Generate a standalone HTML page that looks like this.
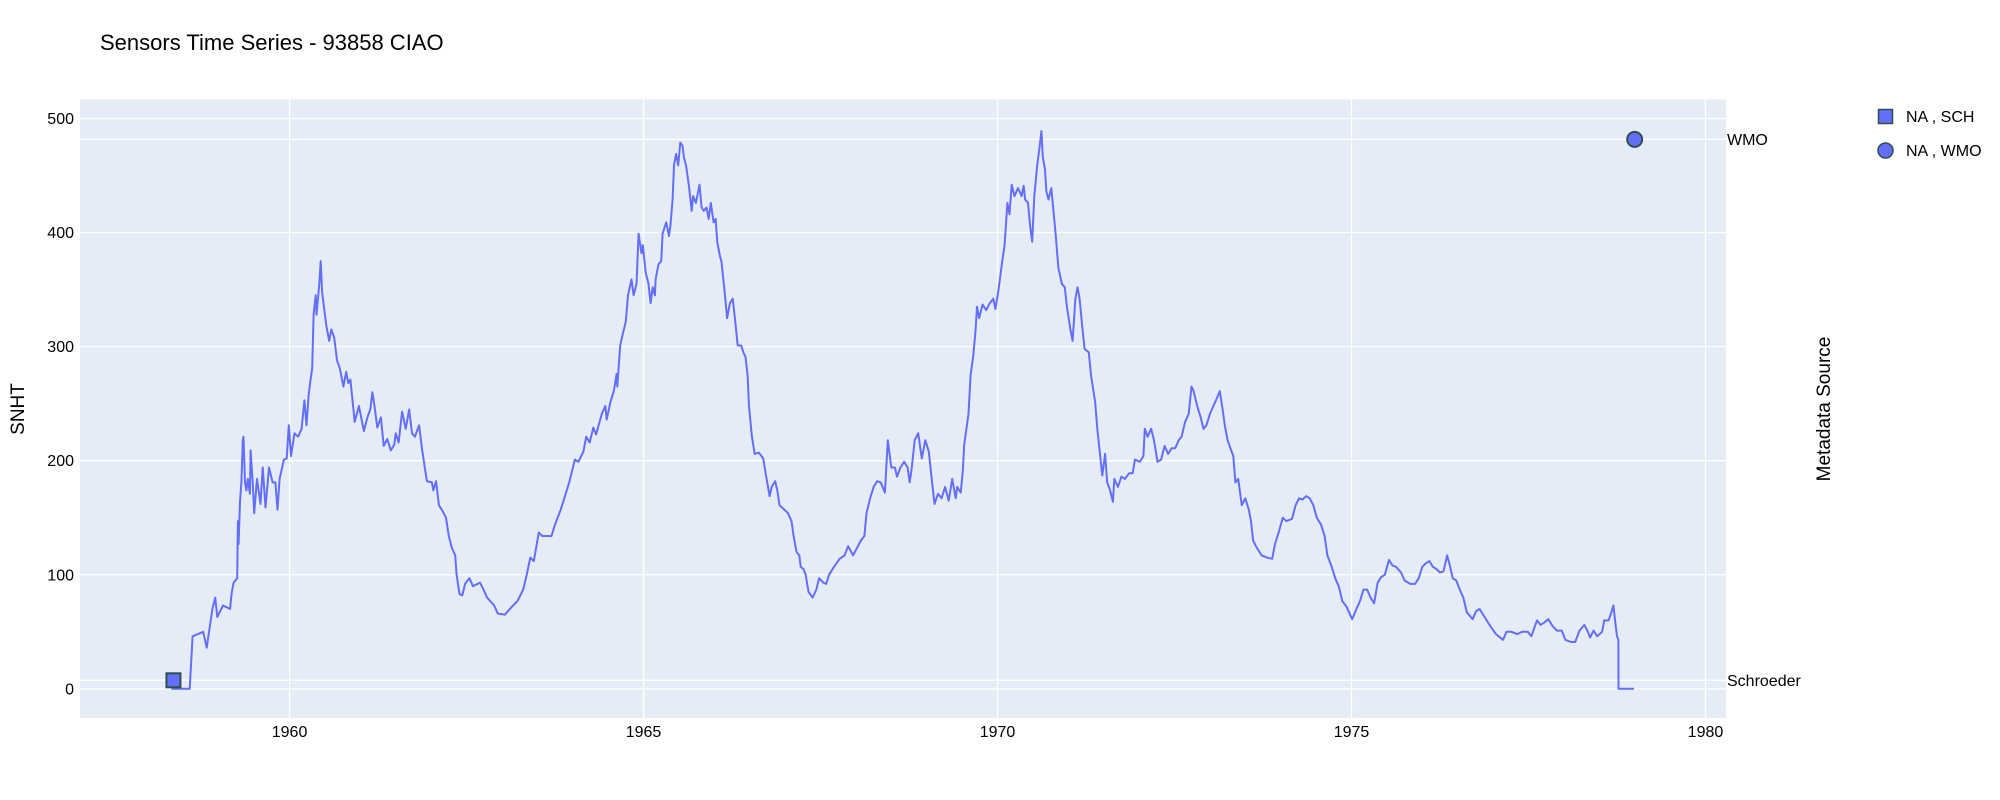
<!DOCTYPE html>
<html><head><meta charset="utf-8"><style>
html,body{margin:0;padding:0;background:#fff;}
svg{display:block;font-family:"Liberation Sans",Arial,sans-serif;}
</style></head><body>
<svg id="chart" width="2000" height="800" viewBox="0 0 2000 800" xmlns="http://www.w3.org/2000/svg">
<rect x="0" y="0" width="2000" height="800" fill="#fff"/>
<text x="100" y="50" font-size="22" fill="#000">Sensors Time Series - 93858 CIAO</text>
<rect x="80" y="99.5" width="1646" height="618.5" fill="#e5ecf6"/>
<g id="grid"></g>
<g id="series"></g>
<g id="markers"></g>
<g id="axes"></g>
<text x="24" y="409" font-size="19" fill="#000" text-anchor="middle" transform="rotate(-90 24 409)">SNHT</text>
<text x="1830" y="409" font-size="19" fill="#000" text-anchor="middle" transform="rotate(-90 1830 409)">Metadata Source</text>
<g>
  <g>
    <rect x="1878.5" y="109.5" width="14" height="14" fill="#636efa" stroke="#2F4F4F" stroke-width="1.5"/>
    <text x="1906" y="122" font-size="16" fill="#000">NA , SCH</text>
  </g>
  <g>
    <circle cx="1885.5" cy="150.5" r="7.5" fill="#636efa" stroke="#2F4F4F" stroke-width="1.5"/>
    <text x="1906" y="156" font-size="16" fill="#000">NA , WMO</text>
  </g>
</g>
</svg>
<script>
const years=[1958.33,1958.59,1958.63,1958.78,1958.83,1958.91,1958.95,1958.98,1959.06,1959.16,1959.18,1959.21,1959.26,1959.27,1959.28,1959.30,1959.32,1959.34,1959.35,1959.37,1959.39,1959.41,1959.44,1959.45,1959.48,1959.50,1959.54,1959.59,1959.62,1959.66,1959.71,1959.76,1959.80,1959.83,1959.86,1959.92,1959.96,1959.99,1960.02,1960.07,1960.12,1960.17,1960.21,1960.24,1960.27,1960.29,1960.32,1960.34,1960.37,1960.38,1960.42,1960.44,1960.46,1960.49,1960.52,1960.56,1960.59,1960.63,1960.67,1960.71,1960.76,1960.80,1960.83,1960.86,1960.92,1960.98,1961.05,1961.10,1961.14,1961.17,1961.20,1961.24,1961.29,1961.33,1961.38,1961.43,1961.48,1961.50,1961.54,1961.59,1961.64,1961.69,1961.73,1961.77,1961.83,1961.87,1961.91,1961.94,1962.01,1962.03,1962.07,1962.11,1962.16,1962.21,1962.25,1962.29,1962.34,1962.36,1962.40,1962.44,1962.48,1962.54,1962.59,1962.69,1962.74,1962.79,1962.89,1962.94,1963.04,1963.14,1963.22,1963.30,1963.35,1963.40,1963.45,1963.52,1963.57,1963.70,1963.75,1963.83,1963.90,1963.95,1964.03,1964.08,1964.15,1964.19,1964.24,1964.29,1964.33,1964.41,1964.46,1964.48,1964.53,1964.58,1964.62,1964.63,1964.67,1964.71,1964.75,1964.78,1964.83,1964.86,1964.90,1964.93,
1964.97,1964.99,1965.03,1965.07,1965.10,1965.13,1965.16,1965.17,1965.21,1965.25,1965.27,1965.32,1965.36,1965.38,1965.41,1965.43,1965.46,1965.49,1965.52,1965.55,1965.57,1965.60,1965.64,1965.68,1965.70,1965.74,1965.79,1965.82,1965.85,1965.89,1965.92,1965.95,1965.99,1966.02,1966.04,1966.08,1966.10,1966.14,1966.18,1966.22,1966.26,1966.29,1966.33,1966.38,1966.41,1966.44,1966.47,1966.49,1966.53,1966.57,1966.63,1966.69,1966.73,1966.78,1966.81,1966.86,1966.89,1966.92,1966.99,1967.04,1967.09,1967.12,1967.16,1967.20,1967.22,1967.26,1967.29,1967.33,1967.39,1967.44,1967.48,1967.54,1967.58,1967.62,1967.69,1967.77,1967.84,1967.89,1967.96,1968.02,1968.07,1968.12,1968.15,1968.20,1968.25,1968.30,1968.35,1968.41,1968.45,1968.50,1968.55,1968.58,1968.63,1968.68,1968.73,1968.76,1968.79,1968.83,1968.88,1968.93,1968.98,1969.03,1969.07,1969.11,1969.16,1969.21,1969.26,1969.31,1969.36,1969.41,1969.43,1969.48,1969.51,1969.53,1969.59,1969.62,1969.66,1969.69,1969.71,1969.74,1969.79,1969.84,1969.89,1969.94,1969.97,1970.01,1970.06,1970.10,1970.14,1970.17,1970.20,1970.24,1970.29,1970.34,1970.37,1970.39,1970.43,1970.46,1970.49,1970.52,1970.56,1970.59,1970.62,1970.64,1970.67,1970.69,1970.72,1970.76,1970.78,1970.82,1970.86,1970.91,1970.95,1970.98,1971.03,1971.06,1971.10,1971.13,1971.16,1971.20,1971.23,1971.29,1971.32,1971.38,1971.41,1971.45,1971.48,1971.52,1971.55,1971.59,1971.63,1971.65,1971.70,1971.75,1971.80,1971.86,1971.91,1971.94,1972.01,1972.06,1972.08,1972.12,1972.17,1972.21,1972.26,1972.31,1972.36,1972.41,1972.46,1972.51,1972.56,
1972.60,1972.65,1972.70,1972.74,1972.77,1972.82,1972.87,1972.91,1972.95,1973.00,1973.05,1973.10,1973.14,1973.18,1973.21,1973.25,1973.29,1973.33,1973.36,1973.40,1973.45,1973.50,1973.55,1973.58,1973.61,1973.66,1973.73,1973.81,1973.88,1973.92,1973.97,1974.03,1974.08,1974.16,1974.21,1974.26,1974.31,1974.36,1974.41,1974.46,1974.51,1974.57,1974.62,1974.66,1974.72,1974.77,1974.82,1974.87,1974.93,1975.01,1975.07,1975.12,1975.17,1975.22,1975.27,1975.32,1975.37,1975.42,1975.47,1975.53,1975.58,1975.63,1975.70,1975.75,1975.83,1975.90,1975.95,1976.00,1976.05,1976.10,1976.15,1976.20,1976.25,1976.30,1976.35,1976.39,1976.43,1976.48,1976.53,1976.58,1976.63,1976.71,1976.76,1976.81,1976.88,1976.96,1977.04,1977.14,1977.19,1977.26,1977.34,1977.41,1977.49,1977.54,1977.62,1977.67,1977.72,1977.78,1977.84,1977.90,1977.97,1978.02,1978.10,1978.16,1978.22,1978.29,1978.34,1978.37,1978.42,1978.47,1978.54,1978.57,1978.63,1978.66,1978.70,1978.73,1978.75,1978.77,1978.771,1978.99];
const snht=[0,0,46,50,36,70,80,63,73,70,83,93,97,147,127,164,181,218,221,181,174,184,171,209,181,154,184,162,194,159,194,181,181,157,184,201,202,231,204,224,221,228,253,231,258,268,281,328,345,328,355,375,348,333,318,305,315,308,288,281,265,278,268,271,234,248,226,238,245,260,248,229,238,213,219,209,214,224,216,243,228,245,224,221,231,211,194,182,181,174,182,161,156,150,134,124,117,100,83,82,92,97,90,93,87,80,73,66,65,72,77,87,100,115,112,137,134,134,144,157,171,181,201,199,208,221,216,229,223,241,248,236,251,261,276,265,301,312,322,345,359,345,355,399,
382,389,365,355,338,352,345,359,372,375,399,409,397,406,429,459,469,459,479,476,466,459,442,419,432,426,442,422,419,422,412,426,409,412,392,379,375,352,325,338,342,325,301,301,295,291,275,248,221,206,207,202,187,169,177,182,174,161,157,154,147,134,120,117,107,105,100,85,80,87,97,93,92,100,107,114,117,125,117,124,130,134,154,167,177,182,181,172,218,194,194,186,194,199,194,181,194,218,224,202,218,208,184,162,171,167,177,165,184,167,177,172,191,214,241,275,293,315,335,325,337,332,338,342,333,348,372,389,426,416,442,432,439,432,441,429,426,406,392,432,459,473,489,466,456,436,429,439,426,399,369,355,352,335,315,305,342,352,342,315,298,295,275,251,228,204,187,206,181,174,164,184,177,186,184,189,189,201,199,204,228,221,228,218,199,201,213,206,211,211,218,
221,234,241,265,261,248,238,228,231,241,248,255,261,245,231,218,211,204,181,184,161,167,157,147,130,124,117,115,114,127,137,150,147,149,161,167,166,169,167,161,150,144,134,117,107,97,90,77,72,61,70,77,87,87,80,75,93,98,100,113,108,107,102,95,92,92,97,107,110,112,107,105,102,103,117,108,97,95,87,80,67,61,68,70,63,55,48,43,50,50,48,50,50,46,60,56,58,61,55,51,51,43,41,41,51,56,50,45,51,46,50,60,60,65,73,56,46,43,0,0];
const yTicks=[0,100,200,300,400,500];
const xTicks=[1960,1965,1970,1975,1980];
const xTickLabels=["1960","1965","1970","1975","1980"];
const catLabels=["Schroeder","WMO"];
const markerYears=[1958.36,1979.0];
const markerCats=["Schroeder","WMO"];

const NS="http://www.w3.org/2000/svg";
const X0=80,X1=1726,Y0=99.5,Y1=718;
const xMin=1957.04,xMax=1980.29,yMin=-25.6,yMax=516.7;
function xs(v){return X0+(v-xMin)/(xMax-xMin)*(X1-X0);}
function ys(v){return Y1-(v-yMin)/(yMax-yMin)*(Y1-Y0);}
function yc(c){return c==="WMO"?139.4:680.3;}
function mk(tag,attrs,parent){const e=document.createElementNS(NS,tag);for(const k in attrs)e.setAttribute(k,attrs[k]);parent.appendChild(e);return e;}
const grid=document.getElementById('grid'),axes=document.getElementById('axes');
yTicks.forEach(t=>{
  const l=mk('line',{x1:X0,x2:X1,y1:ys(t),y2:ys(t),stroke:'#fff','stroke-width':1.3},grid);
  
  
  const tx=mk('text',{x:X0-6,y:ys(t)+5.5,'font-size':16,fill:'#000','text-anchor':'end'},axes);
  
  
  tx.textContent=String(t);
});
catLabels.forEach(c=>{
  const l=mk('line',{x1:X0,x2:X1,y1:yc(c),y2:yc(c),stroke:'#fff','stroke-width':1.3},grid);
  
  
  const tx=mk('text',{x:X1+1,y:yc(c)+5.5,'font-size':16,fill:'#000'},axes);
  
  
  tx.textContent=c;
});
xTicks.forEach((t,i)=>{
  const l=mk('line',{x1:xs(t),x2:xs(t),y1:Y0,y2:Y1,stroke:'#fff','stroke-width':1.3},grid);
  
  
  const tx=mk('text',{x:xs(t),y:737,'font-size':16,fill:'#000','text-anchor':'middle'},axes);
  
  
  tx.textContent=xTickLabels[i];
});
let d='';
years.forEach((y,i)=>{d+=(i?'L':'M')+xs(y).toFixed(1)+','+ys(snht[i]).toFixed(1);});
const p=mk('path',{d:d,fill:'none',stroke:'#636efa','stroke-width':2,'stroke-linejoin':'round'},document.getElementById('series'));


const mg=document.getElementById('markers');
markerYears.forEach((y,i)=>{
  const cx=xs(y),cy=yc(markerCats[i]);
  let m;
  if(markerCats[i]==="Schroeder"){
    m=mk('rect',{x:cx-7,y:cy-7,width:14,height:14,fill:'#636efa',stroke:'#2F4F4F','stroke-width':2},mg);
    
  } else {
    m=mk('circle',{cx:cx,cy:cy,r:7.5,fill:'#636efa',stroke:'#2F4F4F','stroke-width':2},mg);
    
  }
  
});
</script>
</body></html>
